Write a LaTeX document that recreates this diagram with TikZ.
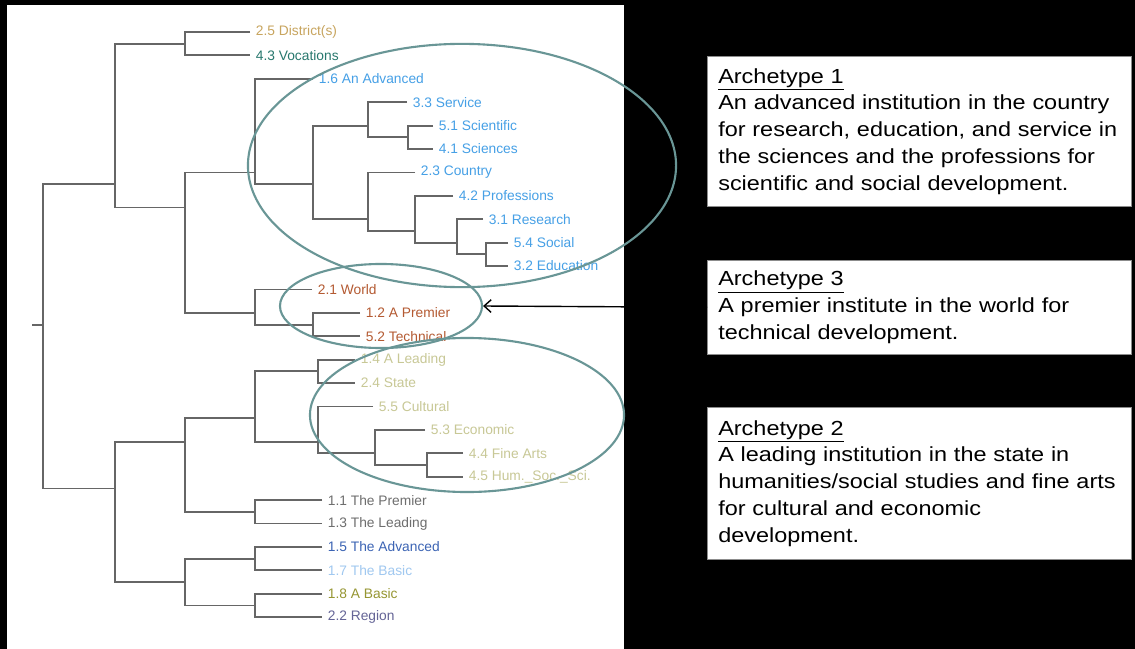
\documentclass[tikz,border=0pt]{standalone}
\usepackage{fontspec}
\usepackage{xcolor}
\usepackage{tikz}
\usetikzlibrary{shapes.geometric, arrows.meta}
\setmainfont{Liberation Sans}
\newfontfamily\leaffont{Liberation Sans}
\newfontfamily\boxfont[FakeStretch=1.15]{Liberation Sans}
\definecolor{cdist}{RGB}{200,165,95}
\definecolor{cvoc}{RGB}{40,120,110}
\definecolor{cblue}{RGB}{70,160,230}
\definecolor{cbrown}{RGB}{180,90,50}
\definecolor{cpale}{RGB}{200,200,150}
\definecolor{cgray}{RGB}{110,110,110}
\definecolor{cadv}{RGB}{60,100,180}
\definecolor{cbasic}{RGB}{160,200,240}
\definecolor{colive}{RGB}{150,150,50}
\definecolor{cregion}{RGB}{100,100,150}
\definecolor{ringteal}{RGB}{105,150,150}

\begin{document}
\begin{tikzpicture}[
    x=0.025cm, y=-0.025cm,
    branch/.style = {draw=black!60, line width=1.3pt},
    leaf/.style = {anchor=west, inner xsep=4pt, inner ysep=1pt, font=\leaffont\fontsize{9.8}{11}\selectfont},
    ring/.style = {draw=ringteal, ellipse, line width=1.5pt, inner sep=0pt},
    archbox/.style = {draw=black!45, fill=white, anchor=north west, text width=10.05cm, inner xsep=0.275cm, align=left, font=\boxfont\fontsize{14.5}{19}\selectfont},
    pointer/.style = {draw=black, line width=1pt, -{Straight Barb[length=5pt, width=9pt]}}
  ]

    % Page: black ground, white panel for the tree
    \useasboundingbox (0,0) rectangle (1135,649);
    \fill[black] (0,0) rectangle (1135,649);
    \fill[white] (7,5) rectangle (624,649);

    \begin{scope}[y=-0.585cm, yshift=-0.8cm]
        % Leaves
        \foreach \i/\xe/\lab/\col in {
            0/250/{2.5 District(s)}/cdist,
            1/250/{4.3 Vocations}/cvoc,
            2/313/{1.6 An Advanced}/cblue,
            3/407/{3.3 Service}/cblue,
            4/433/{5.1 Scientific}/cblue,
            5/433/{4.1 Sciences}/cblue,
            6/415/{2.3 Country}/cblue,
            7/453/{4.2 Professions}/cblue,
            8/483/{3.1 Research}/cblue,
            9/508/{5.4 Social}/cblue,
            10/508/{3.2 Education}/cblue,
            11/312/{2.1 World}/cbrown,
            12/360/{1.2 A Premier}/cbrown,
            13/360/{5.2 Technical}/cbrown,
            14/355/{1.4 A Leading}/cpale,
            15/355/{2.4 State}/cpale,
            16/373/{5.5 Cultural}/cpale,
            17/425/{5.3 Economic}/cpale,
            18/463/{4.4 Fine Arts}/cpale,
            19/463/{4.5 Hum.\_Soc.\_Sci.}/cpale,
            20/322/{1.1 The Premier}/cgray,
            21/322/{1.3 The Leading}/cgray,
            22/322/{1.5 The Advanced}/cadv,
            23/322/{1.7 The Basic}/cbasic,
            24/322/{1.8 A Basic}/colive,
            25/322/{2.2 Region}/cregion}
            \node[leaf, text=\col] (l\i) at (\xe,\i) {\lab};

        % Merge points
        \coordinate (stub) at (32,12.5);
        \coordinate (root) at (43,12.5);
        \coordinate (A) at (185,0.5);
        \coordinate (B) at (115,6.5);
        \coordinate (C) at (185,7.5);
        \coordinate (D) at (255,6);
        \coordinate (E) at (255,12);
        \coordinate (F) at (313,6.5);
        \coordinate (G) at (368,4);
        \coordinate (H) at (368,8);
        \coordinate (I) at (408,4.5);
        \coordinate (J) at (415,8.5);
        \coordinate (K) at (457,9);
        \coordinate (L) at (486,9.5);
        \coordinate (M) at (313,12.5);
        \coordinate (N) at (115,19.5);
        \coordinate (O) at (185,17.5);
        \coordinate (P) at (185,23.5);
        \coordinate (Q) at (255,16.5);
        \coordinate (R) at (255,20.5);
        \coordinate (S) at (318,14.5);
        \coordinate (T) at (318,17.5);
        \coordinate (U) at (375,18);
        \coordinate (V) at (427,18.5);
        \coordinate (W) at (255,22.5);
        \coordinate (X) at (255,24.5);

        % Upper branch
        \draw[branch] (l0.west) -| (A) |- (l1.west);
        \draw[branch] (A) -| (B) |- (C);
        \draw[branch] (D) -| (C) |- (E);
        \draw[branch] (l2.west) -| (D) |- (F);
        \draw[branch] (G) -| (F) |- (H);
        \draw[branch] (l3.west) -| (G) |- (I);
        \draw[branch] (l4.west) -| (I) |- (l5.west);
        \draw[branch] (l6.west) -| (H) |- (J);
        \draw[branch] (l7.west) -| (J) |- (K);
        \draw[branch] (l8.west) -| (K) |- (L);
        \draw[branch] (l9.west) -| (L) |- (l10.west);
        \draw[branch] (l11.west) -| (E) |- (M);
        \draw[branch] (l12.west) -| (M) |- (l13.west);

        % Root
        \draw[branch] (B) -| (root) |- (N);
        \draw[branch] (stub) -- (root);

        % Lower branch
        \draw[branch] (O) -| (N) |- (P);
        \draw[branch] (Q) -| (O) |- (R);
        \draw[branch] (S) -| (Q) |- (T);
        \draw[branch] (l14.west) -| (S) |- (l15.west);
        \draw[branch] (l16.west) -| (T) |- (U);
        \draw[branch] (l17.west) -| (U) |- (V);
        \draw[branch] (l18.west) -| (V) |- (l19.west);
        \draw[branch] (l20.west) -| (R) |- (l21.west);
        \draw[branch] (W) -| (P) |- (X);
        \draw[branch] (l22.west) -| (W) |- (l23.west);
        \draw[branch] (l24.west) -| (X) |- (l25.west);
    \end{scope}

    % Cluster rings
    \node[ring, minimum width=10.7cm, minimum height=6.08cm] (ring1) at (462,165.5) {};
    \node[ring, minimum width=5.05cm, minimum height=2.1cm] (ring3) at (381,306) {};
    \node[ring, minimum width=7.85cm, minimum height=3.85cm] (ring2) at (467,415) {};

    % Archetype boxes
    \node[archbox, minimum height=3.75cm] (arch1) at (707,56)
        {\underline{Archetype 1}\\An advanced institution in the country\\for research, education, and service in\\the sciences and the professions for\\scientific and social development.};
    \node[archbox, minimum height=2.35cm] (arch3) at (707,260)
        {\underline{Archetype 3}\\A premier institute in the world for\\technical development.};
    \node[archbox, minimum height=3.8cm] (arch2) at (707,407)
        {\underline{Archetype 2}\\A leading institution in the state in\\humanities/social studies and fine arts\\for cultural and economic\\development.};

    \draw[pointer] (arch3.west) -- (ring3.east);

\end{tikzpicture}
\end{document}
